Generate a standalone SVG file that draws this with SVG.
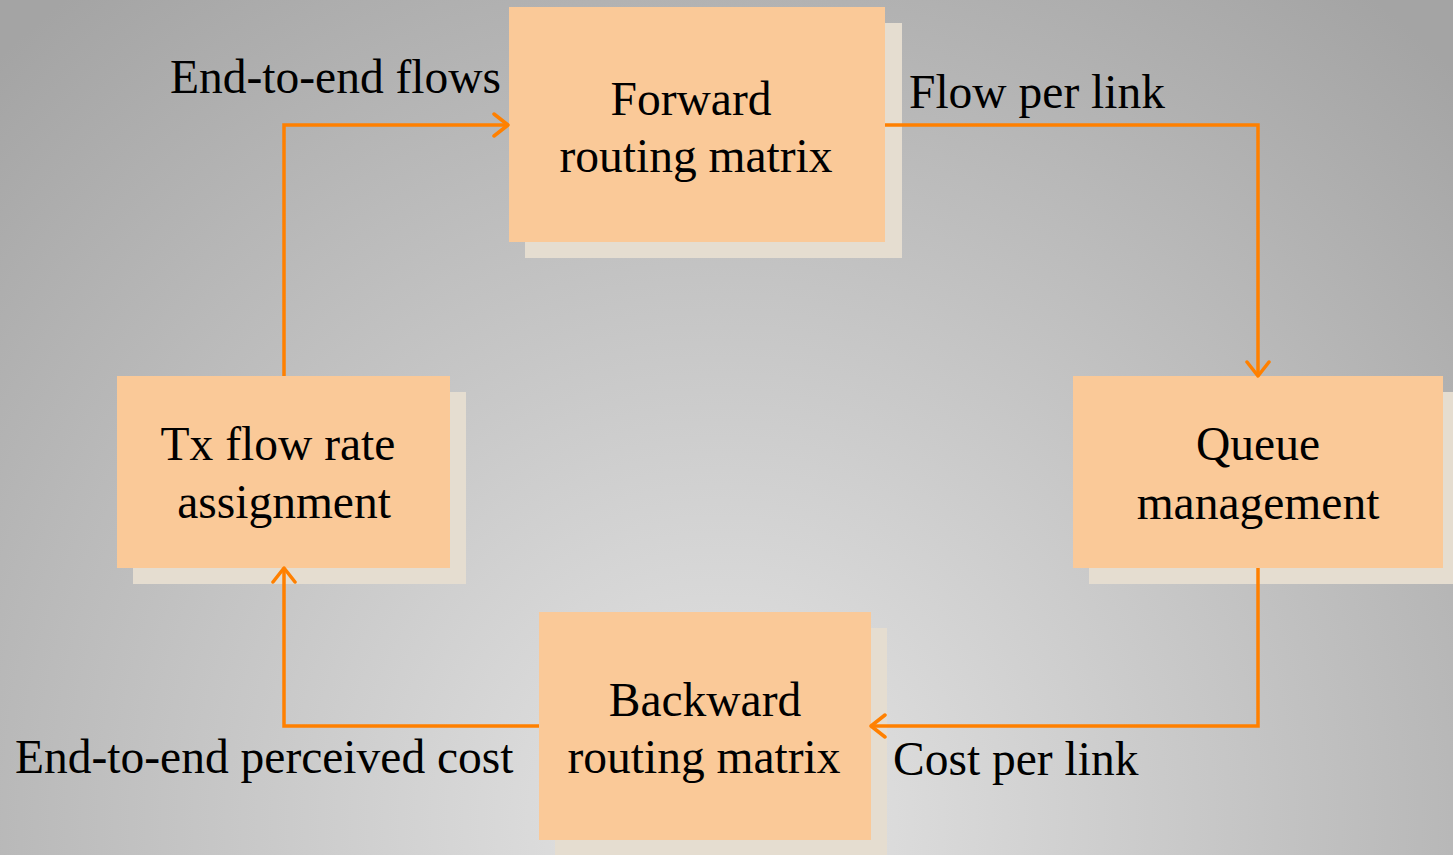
<svg xmlns="http://www.w3.org/2000/svg" width="1453" height="855" viewBox="0 0 1453 855">
<defs>
<radialGradient id="bg" gradientUnits="userSpaceOnUse" cx="720" cy="820" r="1050">
<stop offset="0" stop-color="#e6e6e6"/>
<stop offset="1" stop-color="#a4a4a4"/>
</radialGradient>
<marker id="arr" viewBox="0 0 18 26" refX="16" refY="13" markerWidth="18" markerHeight="26" markerUnits="userSpaceOnUse" orient="auto">
<path d="M2,2 L16,13 L2,24" fill="none" stroke="#ff8000" stroke-width="3.5" stroke-linecap="round" stroke-linejoin="round"/>
</marker>
<style>
.box{fill:#fac998}
.sh{fill:#e5ddd0}
.t{font-family:"Liberation Serif","Times New Roman",serif;font-size:47.5px;fill:#000}
.c{text-anchor:middle}
.conn{fill:none;stroke:#ff8000;stroke-width:3.5;marker-end:url(#arr)}
</style>
</defs>
<rect x="0" y="0" width="1453" height="855" fill="url(#bg)"/>
<g id="forward">
<rect class="sh" x="525" y="23" width="377" height="235"/>
<rect class="box" x="509" y="7" width="376" height="235"/>
<text class="t c" x="691" y="115">Forward</text>
<text class="t c" x="696" y="172">routing matrix</text>
</g>
<g id="tx">
<rect class="sh" x="133" y="392" width="333" height="192"/>
<rect class="box" x="117" y="376" width="333" height="192"/>
<text class="t c" x="278" y="460">Tx flow rate</text>
<text class="t c" x="284" y="518">assignment</text>
</g>
<g id="queue">
<rect class="sh" x="1089" y="392" width="370" height="192"/>
<rect class="box" x="1073" y="376" width="370" height="192"/>
<text class="t c" x="1258" y="460">Queue</text>
<text class="t c" x="1258" y="519">management</text>
</g>
<g id="backward">
<rect class="sh" x="555" y="628" width="332" height="228"/>
<rect class="box" x="539" y="612" width="332" height="228"/>
<text class="t c" x="705" y="716">Backward</text>
<text class="t c" x="704" y="773">routing matrix</text>
</g>
<g id="connectors">
<path class="conn" d="M284,376 V125 H508"/>
<path class="conn" d="M885,125 H1258 V376"/>
<path class="conn" d="M1258,568 V726 H871"/>
<path class="conn" d="M539,726 H284 V568"/>
</g>
<g id="labels">
<text class="t" x="170" y="93">End-to-end flows</text>
<text class="t" x="909" y="108">Flow per link</text>
<text class="t" x="15" y="773">End-to-end perceived cost</text>
<text class="t" x="893" y="775">Cost per link</text>
</g>
</svg>
